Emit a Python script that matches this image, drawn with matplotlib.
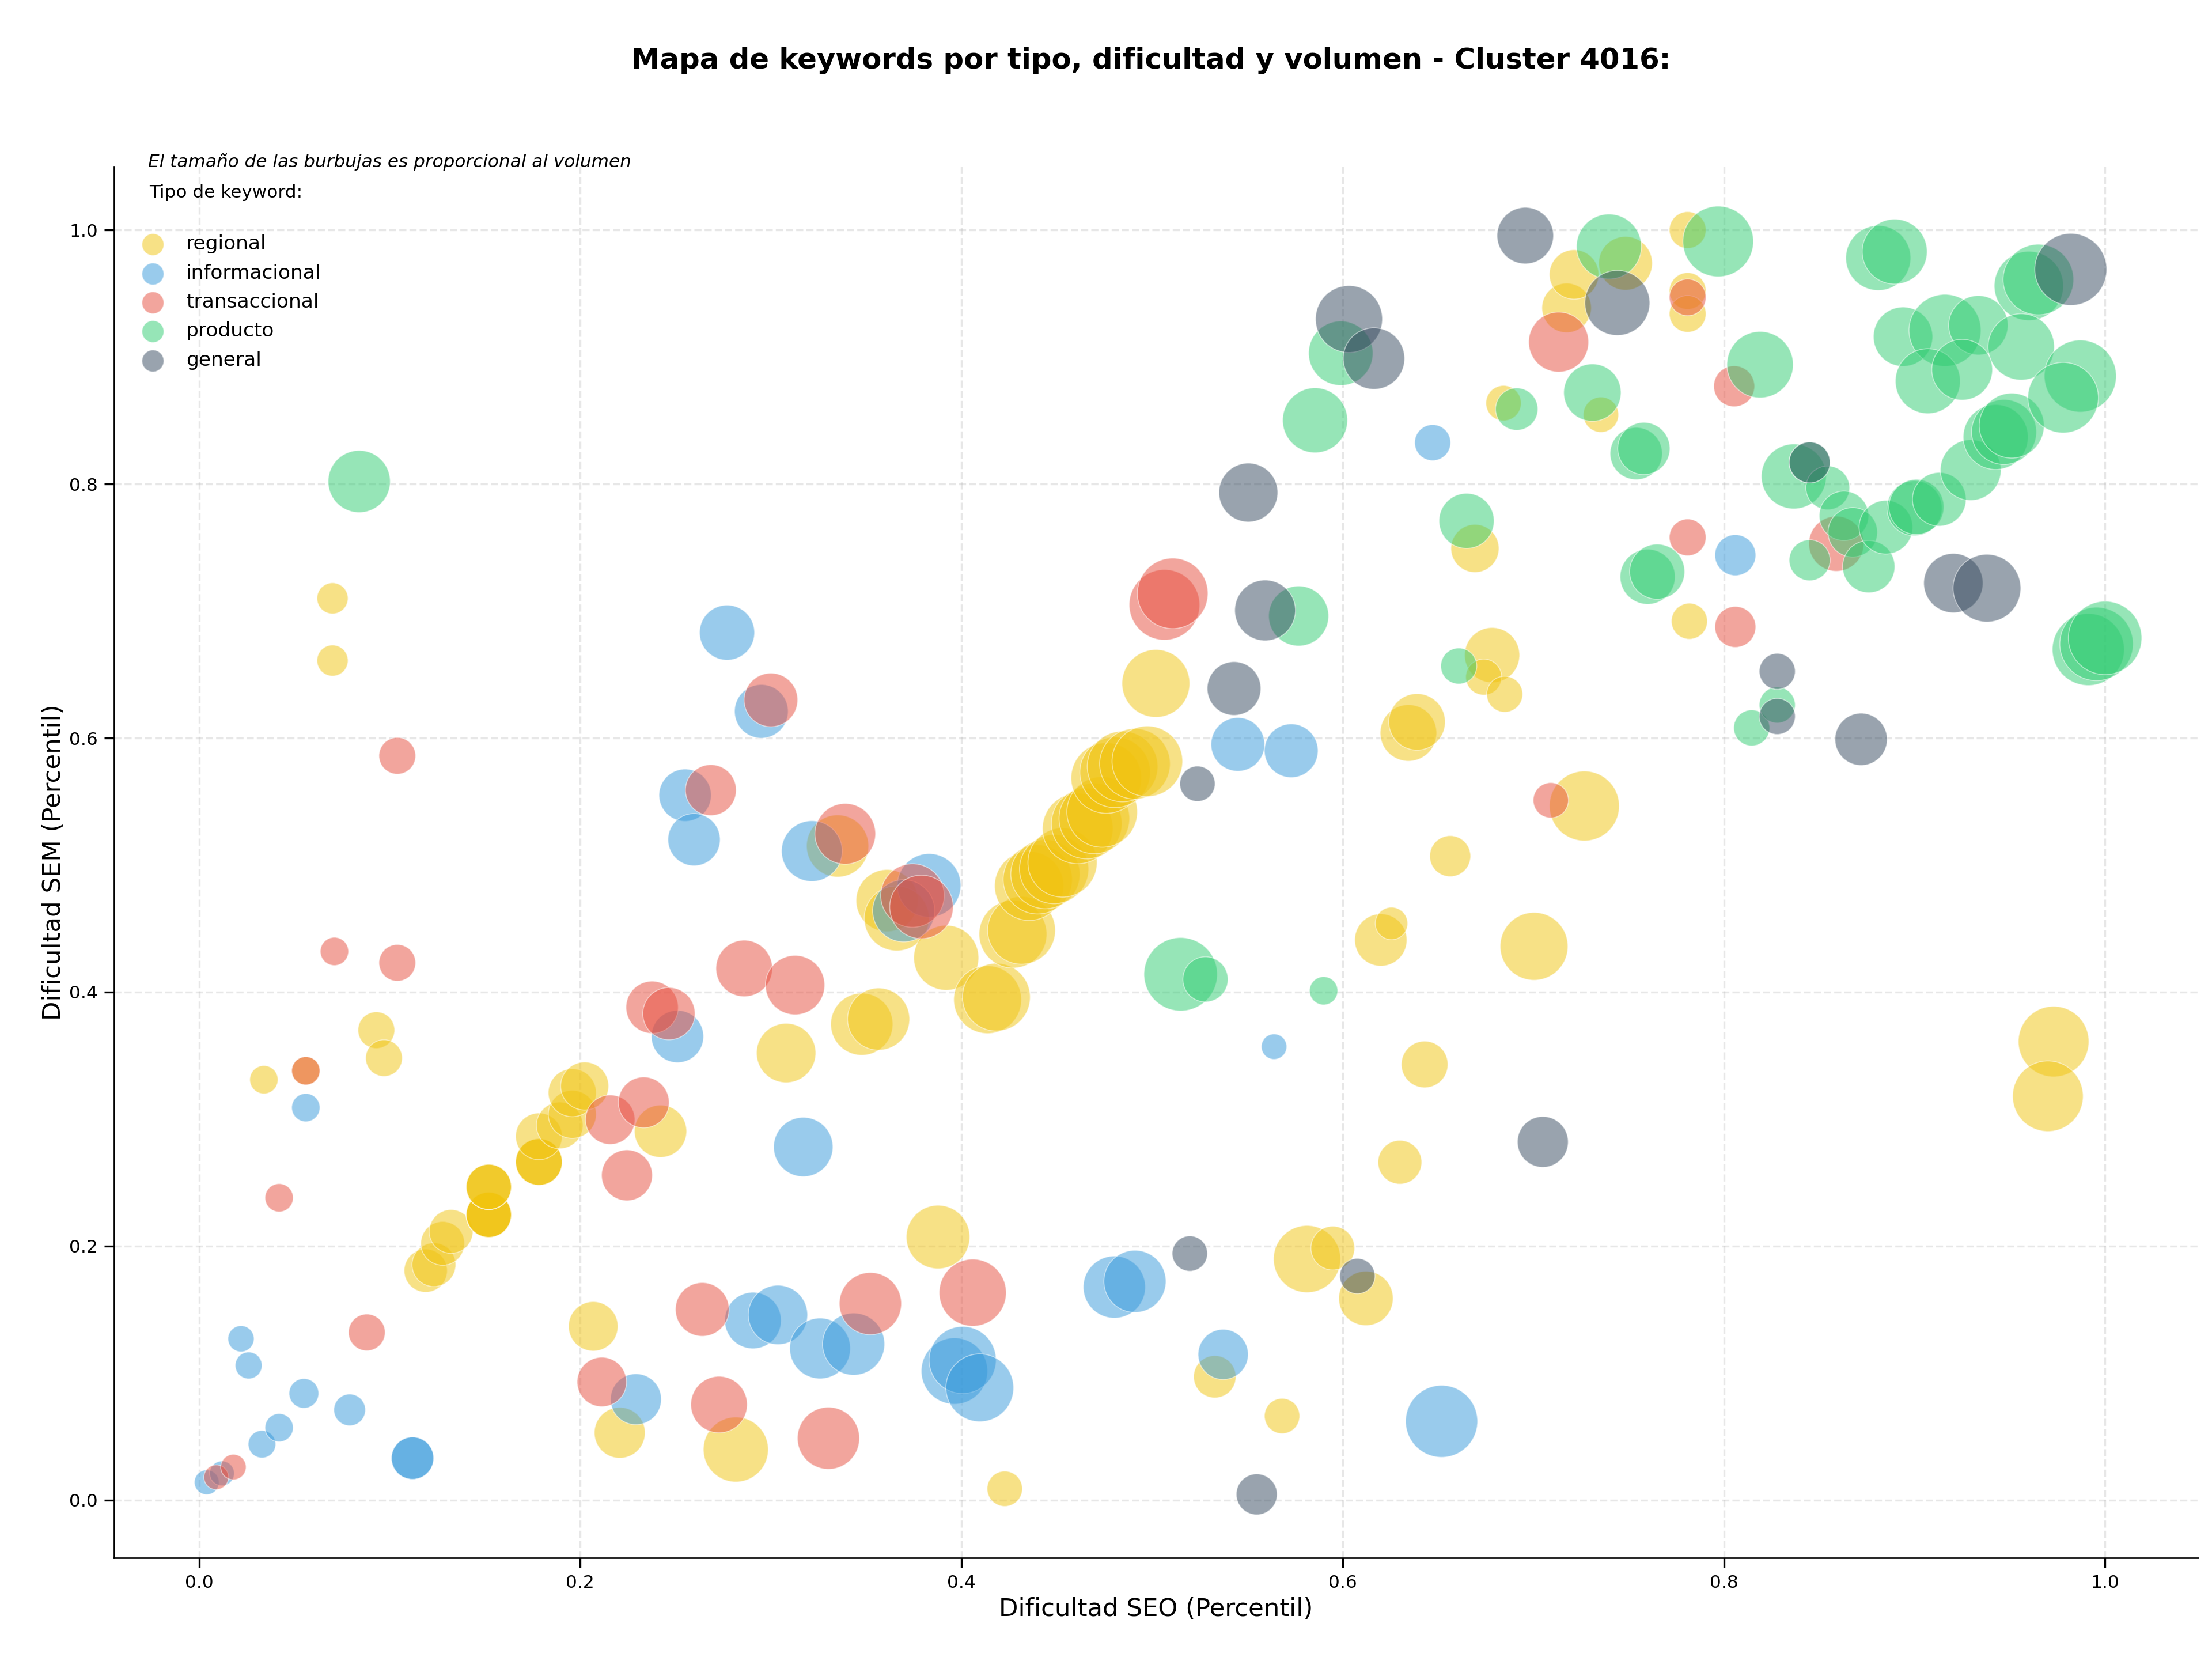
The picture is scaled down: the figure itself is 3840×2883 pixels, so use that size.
import matplotlib
matplotlib.use("Agg")
import matplotlib.pyplot as plt

tipos = ["regional", "informacional", "transaccional", "producto", "general"]
colores = ["#f1c40f", "#3498db", "#e74c3c", "#2ecc71", "#34495e"]

regional_seo = [0.07, 0.07, 0.034, 0.093, 0.097, 0.056, 0.1189, 0.1232, 0.1278, 0.1322,
                0.152, 0.152, 0.152, 0.152, 0.152, 0.152, 0.152,
                0.1783, 0.1783, 0.1783, 0.1783, 0.1892, 0.1958, 0.1958, 0.2023, 0.2421, 0.2068, 0.2207, 0.2816,
                0.308, 0.3477, 0.3565, 0.335, 0.361, 0.366, 0.392, 0.4137, 0.4183, 0.427, 0.4315,
                0.4355, 0.44, 0.444, 0.4486, 0.453, 0.461, 0.4657, 0.4697, 0.4738,
                0.476, 0.4806, 0.4845, 0.491, 0.4975, 0.502, 0.3877, 0.4227, 0.5329, 0.5682, 0.5813, 0.5948, 0.6122,
                0.63, 0.643, 0.62, 0.6256, 0.6564, 0.7004, 0.7268, 0.6345, 0.639, 0.6784, 0.674, 0.685, 0.6694,
                0.6844, 0.7355, 0.7175, 0.7214, 0.7484, 0.781, 0.781, 0.781, 0.7819, 0.973, 0.97]
regional_sem = [0.71, 0.661, 0.331, 0.37, 0.348, 0.338, 0.1806, 0.1853, 0.2021, 0.2115,
                0.2246, 0.2246, 0.2246, 0.2246, 0.2466, 0.2466, 0.2466,
                0.2662, 0.2662, 0.2662, 0.2864, 0.295, 0.3037, 0.3207, 0.326, 0.2904, 0.1368, 0.053, 0.0398,
                0.352, 0.3747, 0.3787, 0.515, 0.472, 0.458, 0.427, 0.394, 0.396, 0.4456, 0.4486,
                0.4836, 0.4887, 0.4928, 0.4968, 0.502, 0.5288, 0.5327, 0.5367, 0.5418,
                0.5685, 0.573, 0.5776, 0.5797, 0.5817, 0.643, 0.2071, 0.0089, 0.0971, 0.0662, 0.1898, 0.1984, 0.1588,
                0.266, 0.343, 0.441, 0.454, 0.507, 0.436, 0.5465, 0.604, 0.6127, 0.6653, 0.648, 0.6345, 0.7493,
                0.8637, 0.8546, 0.9387, 0.965, 0.9738, 1.0, 0.952, 0.934, 0.692, 0.361, 0.318]
regional_vol = [484, 484, 400, 676, 676, 400, 936, 961, 961, 961,
                1024, 1024, 1024, 1024, 1024, 1024, 1024,
                1089, 1089, 1089, 1089, 1089, 1156, 1156, 1156, 1369, 1225, 1296, 2116,
                1764, 1936, 1936, 1936, 1936, 2116, 2116, 2304, 2304, 2304, 2304,
                2401, 2401, 2401, 2401, 2401, 2500, 2500, 2500, 2500,
                2500, 2500, 2500, 2500, 2500, 2304, 2025, 625, 900, 625, 2256, 961, 1482,
                961, 1089, 1369, 529, 841, 2304, 2450, 1600, 1600, 1521, 650, 650, 1156,
                625, 625, 1225, 1225, 1444, 676, 676, 676, 650, 2500, 2500]

informacional_seo = [0.004, 0.012, 0.033, 0.042, 0.022, 0.026, 0.055, 0.079, 0.112, 0.112, 0.056, 0.2292, 0.251,
                     0.255, 0.2597, 0.277, 0.295, 0.3215, 0.317, 0.2906, 0.3037, 0.3258, 0.3434, 0.3963, 0.4006, 0.4096,
                     0.4802, 0.491, 0.5373, 0.545, 0.573, 0.383, 0.6519, 0.564, 0.6472, 0.806, 0.3697]
informacional_sem = [0.014, 0.021, 0.044, 0.057, 0.127, 0.106, 0.084, 0.071, 0.033, 0.033, 0.309, 0.0794, 0.365,
                     0.555, 0.52, 0.683, 0.621, 0.511, 0.278, 0.1414, 0.1458, 0.1194, 0.1228, 0.1016, 0.1103, 0.0884,
                     0.1677, 0.1722, 0.1147, 0.595, 0.59, 0.484, 0.062, 0.357, 0.8326, 0.744, 0.464]
informacional_vol = [306, 306, 380, 400, 342, 361, 441, 502, 900, 900, 400, 1296, 1369,
                     1369, 1369, 1521, 1444, 1849, 1764, 1600, 1764, 1849, 1936, 2209, 2256, 2304,
                     1936, 1936, 1260, 1444, 1444, 2025, 2601, 324, 650, 841, 1936]

transaccional_seo = [0.009, 0.018, 0.042, 0.056, 0.071, 0.104, 0.104, 0.088, 0.2113, 0.2157, 0.2245, 0.2333, 0.2377,
                     0.2465, 0.264, 0.2728, 0.286, 0.3, 0.2685, 0.3127, 0.3302, 0.339, 0.3522, 0.3743, 0.379, 0.4059,
                     0.5065, 0.5108, 0.7092, 0.7133, 0.781, 0.781, 0.8054, 0.806, 0.859]
transaccional_sem = [0.018, 0.026, 0.238, 0.338, 0.432, 0.586, 0.423, 0.132, 0.093, 0.2995, 0.2557, 0.3131, 0.388,
                     0.383, 0.1501, 0.0752, 0.4186, 0.63, 0.559, 0.4055, 0.0487, 0.5246, 0.1547, 0.476, 0.467, 0.1633,
                     0.7049, 0.7139, 0.551, 0.9118, 0.947, 0.758, 0.877, 0.6875, 0.753]
transaccional_vol = [306, 324, 400, 400, 400, 676, 676, 676, 1225, 1225, 1296, 1296, 1369,
                     1369, 1444, 1600, 1600, 1444, 1296, 1764, 1936, 1849, 1936, 2025, 2025, 2256,
                     2500, 2500, 625, 1806, 676, 676, 841, 841, 1521]

producto_seo = [0.084, 0.515, 0.528, 0.59, 0.5769, 0.6609, 0.665, 0.6913, 0.599, 0.5855, 0.731, 0.7397, 0.797,
                0.754, 0.758, 0.76, 0.765, 0.8146, 0.828, 0.819, 0.8367, 0.845, 0.8545, 0.863, 0.8676, 0.845,
                0.876, 0.885, 0.9, 0.901, 0.913, 0.9295, 0.9426, 0.947, 0.951, 0.881, 0.8896, 0.96, 0.965,
                0.894, 0.916, 0.9335, 0.956, 0.907, 0.925, 0.987, 0.978, 0.9912, 0.9955, 1.0]
producto_sem = [0.802, 0.414, 0.41, 0.401, 0.6961, 0.6567, 0.771, 0.859, 0.903, 0.8502, 0.872, 0.987, 0.991,
                0.824, 0.828, 0.727, 0.731, 0.608, 0.626, 0.894, 0.806, 0.817, 0.797, 0.775, 0.762, 0.74,
                0.735, 0.766, 0.781, 0.782, 0.788, 0.811, 0.837, 0.841, 0.846, 0.978, 0.983, 0.956, 0.961,
                0.916, 0.921, 0.925, 0.908, 0.881, 0.89, 0.885, 0.868, 0.6697, 0.6741, 0.6788]
producto_vol = [1936, 2704, 1024, 400, 1806, 650, 1521, 900, 2079, 2116, 1648, 2116, 2500,
                1369, 1369, 1521, 1521, 650, 650, 2209, 2116, 841, 961, 1225, 1225, 841,
                1369, 1444, 1521, 1521, 1444, 1849, 2116, 2116, 2116, 2116, 2116, 2401, 2500,
                1764, 2601, 1764, 2209, 2116, 1849, 2601, 2500, 2601, 2704, 2704]

general_seo = [0.6958, 0.6033, 0.6164, 0.7441, 0.5505, 0.5593, 0.543, 0.5238, 0.828, 0.828, 0.872, 0.705, 0.5198, 0.6077,
               0.5549, 0.845, 0.9204, 0.938, 0.982]
general_sem = [0.9956, 0.9299, 0.8988, 0.9426, 0.7933, 0.7005, 0.639, 0.564, 0.6525, 0.617, 0.599, 0.282, 0.1941, 0.1764,
               0.0045, 0.817, 0.722, 0.718, 0.969]
general_vol = [1600, 2247, 1892, 2116, 1739, 1849, 1444, 625, 650, 650, 1369, 1296, 625, 625,
               841, 841, 1764, 2304, 2601]

series_seo = [regional_seo, informacional_seo, transaccional_seo, producto_seo, general_seo]
series_sem = [regional_sem, informacional_sem, transaccional_sem, producto_sem, general_sem]
series_vol = [regional_vol, informacional_vol, transaccional_vol, producto_vol, general_vol]

AREA_POR_VOLUMEN = 0.54

fig = plt.figure(figsize=(16, 2883 / 240), dpi=240)
ax = fig.add_axes([81 / 1568, 1 - 1104 / 1177, (1558 - 81) / 1568, (1104 - 118) / 1177])

for nombre, color, xs, ys, vol in zip(tipos, colores, series_seo, series_sem, series_vol):
    ax.scatter(xs, ys, s=[v * AREA_POR_VOLUMEN for v in vol], c=color, alpha=0.5,
               edgecolors="white", linewidths=0.5, label=nombre, zorder=3)

ax.set_xlim(-0.0445, 1.0487)
ax.set_ylim(-0.0456, 1.0500)
ax.set_xticks([0, 0.2, 0.4, 0.6, 0.8, 1.0])
ax.set_yticks([0, 0.2, 0.4, 0.6, 0.8, 1.0])
ax.tick_params(labelsize=9.4, length=5, width=1)
ax.grid(True, linestyle="--", color="#b0b0b0", alpha=0.3, linewidth=1.0)
ax.set_axisbelow(True)
ax.spines["top"].set_visible(False)
ax.spines["right"].set_visible(False)
ax.set_xlabel("Dificultad SEO (Percentil)", fontsize=13, labelpad=3)
ax.set_ylabel("Dificultad SEM (Percentil)", fontsize=13, labelpad=1.8)

leyenda = ax.legend(loc="upper left", bbox_to_anchor=(0.0088, 0.951), frameon=False, fontsize=10.3,
                    labelspacing=0.505, handletextpad=0.71, borderpad=0, borderaxespad=0)
for h in leyenda.legend_handles:
    h.set_sizes([130])
    h.set_alpha(0.5)

ax.text(24 / 1477, 1.0035, "El tamaño de las burbujas es proporcional al volumen",
        transform=ax.transAxes, fontsize=9.35, style="italic", va="center", ha="left")
ax.text(25 / 1477, 0.981, "Tipo de keyword:", transform=ax.transAxes, fontsize=9.35, va="center", ha="left")

fig.text(816 / 1568, 1 - 43 / 1177, "Mapa de keywords por tipo, dificultad y volumen - Cluster 4016:",
         fontsize=14.93, fontweight="bold", ha="center", va="center")

fig.savefig("out.png", dpi=240, facecolor="white")
